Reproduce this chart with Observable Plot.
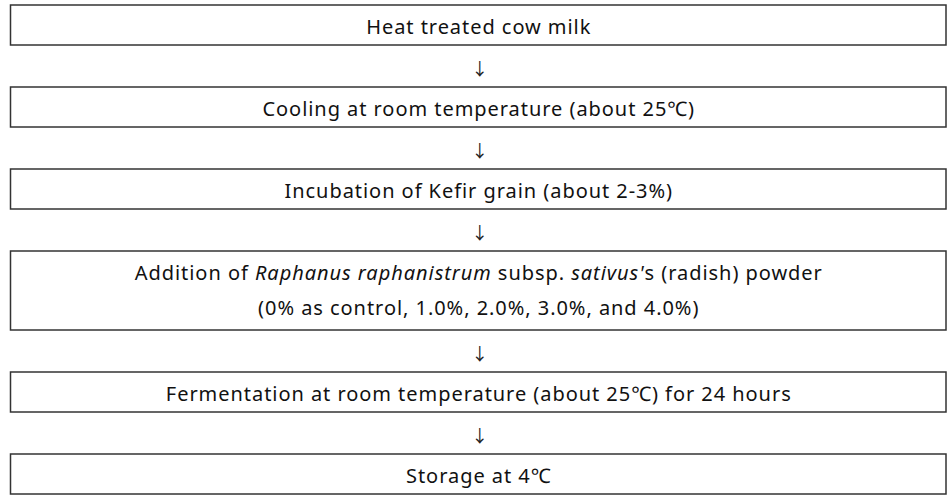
<!DOCTYPE html>
<html><head><meta charset="utf-8">
<script src="https://cdn.jsdelivr.net/npm/d3@7"></script>
<script src="https://cdn.jsdelivr.net/npm/@observablehq/plot@0.6"></script>
<style>body{margin:0;background:#fff}</style>
</head><body><div id="chart"></div>
<script>
// Flowchart steps (each entry = text lines of one box)
const stepLabels = [
  ["Heat treated cow milk"],
  ["Cooling at room temperature (about 25℃)"],
  ["Incubation of Kefir grain (about 2-3%)"],
  ["Addition of Raphanus raphanistrum subsp. sativus's (radish) powder",
   "(0% as control, 1.0%, 2.0%, 3.0%, and 4.0%)"],
  ["Fermentation at room temperature (about 25℃) for 24 hours"],
  ["Storage at 4℃"]
];
const italicParts = ["Raphanus raphanistrum", "sativus'"];
const arrowGlyph = "↓";

// layout computed in code
const W = 950, H = 496;
const left = 10.5, right = 946, top0 = 5, singleH = 40, extraLine = 39, gap = 42, lineStep = 35;
const boxes = [], lines = [], arrows = [];
let y = top0;
stepLabels.forEach((ls, i) => {
  const h = singleH + extraLine * (ls.length - 1);
  boxes.push({x1: left, x2: right, y1: y, y2: y + h});
  ls.forEach((t, j) => lines.push({x: (left + right) / 2, y: y + 22 + lineStep * j, text: t}));
  if (i < stepLabels.length - 1) arrows.push({x: (left + right) / 2 + 1, y: y + h + gap / 2 + 3, text: arrowGlyph});
  y += h + gap;
});

const font = "'Noto Sans', 'Open Sans', sans-serif";
const arrowFont = "'Noto Sans CJK KR', sans-serif";
const chart = Plot.plot({
  width: W, height: H, margin: 0,
  x: {domain: [0, W], range: [0, W], axis: null},
  y: {domain: [0, H], range: [0, H], axis: null},
  style: {fontFamily: font, background: "#fff"},
  marks: [
    Plot.rect(boxes, {x1: "x1", x2: "x2", y1: "y1", y2: "y2", fill: "white", stroke: "#333", strokeWidth: 1.5}),
    Plot.text(lines, {x: "x", y: "y", text: "text", fontSize: 20, fill: "#111", fontFamily: font}),
    Plot.text(arrows, {x: "x", y: "y", text: "text", fontSize: 17, fill: "#222", fontFamily: arrowFont})
  ]
});
document.getElementById("chart").appendChild(chart);

chart.querySelectorAll("text").forEach(el => {
  if (el.textContent !== arrowGlyph) el.setAttribute("letter-spacing", "0.95");
});

// apply italics to scientific names
chart.querySelectorAll("text").forEach(el => {
  const s = el.textContent;
  if (!italicParts.some(p => s.includes(p))) return;
  const re = new RegExp("(" + italicParts.map(p => p.replace(/[.*+?^${}()|[\]\\]/g, "\\$&")).join("|") + ")");
  const parts = s.split(re).filter(p => p !== "");
  el.textContent = "";
  parts.forEach(p => {
    const ts = document.createElementNS("http://www.w3.org/2000/svg", "tspan");
    ts.textContent = p;
    if (italicParts.includes(p)) ts.setAttribute("font-style", "italic");
    el.appendChild(ts);
  });
});
</script>
</body></html>
